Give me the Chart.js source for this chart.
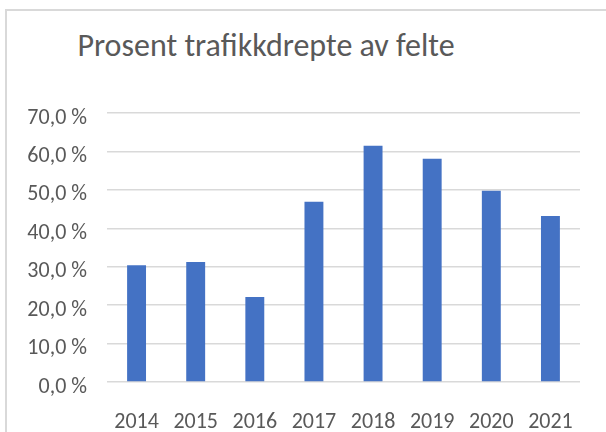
<!DOCTYPE html>
<html>
<head>
<meta charset="utf-8">
<script src="https://cdn.jsdelivr.net/npm/chart.js@4/dist/chart.umd.min.js"></script>
<style>
  html, body { margin: 0; padding: 0; background: #fff; }
  body { width: 606px; height: 432px; position: relative; overflow: hidden; }
  #frame {
    position: absolute; left: 5px; top: 9px; width: 700px; height: 500px;
    border: 2px solid #d9d9d9; box-sizing: border-box;
  }
  #title {
    position: absolute; left: 66px; top: 26px; width: 400px;
    font-family: Carlito, Lato, sans-serif; font-size: 32px; color: #595959;
    white-space: nowrap; text-align: center;
  }
  #wrap { position: absolute; left: 0; top: 0; width: 606px; height: 432px; }
</style>
</head>
<body>
<div id="frame"></div>
<div id="title">Prosent trafikkdrepte av felte</div>
<div id="wrap"><canvas id="chart"></canvas></div>
<script>
var years = ['2014', '2015', '2016', '2017', '2018', '2019', '2020', '2021'];
var prosent = [30.4, 31.2, 22.1, 46.9, 61.5, 58.1, 49.8, 43.2];
var yMin = 0;
var yMax = 70;
var yStep = 10;

var fontFamily = 'Carlito, Lato, sans-serif';
var textColor = '#595959';

var ctx = document.getElementById('chart');

var chart = new Chart(ctx, {
    type: 'bar',
    data: {
        labels: years,
        datasets: [{
            data: prosent,
            backgroundColor: '#4472c4',
            categoryPercentage: 1,
            barPercentage: 0.32
        }]
    },
    options: {
        responsive: true,
        maintainAspectRatio: false,
        animation: false,
        layout: {
            padding: { top: 113, right: 26, left: 0, bottom: 0 }
        },
        plugins: {
            legend: { display: false },
            title: { display: false },
            tooltip: { enabled: false }
        },
        scales: {
            x: {
                grid: { display: false },
                border: { display: false },
                ticks: {
                    color: textColor,
                    font: { family: fontFamily, size: 22 },
                    padding: 19,
                    maxRotation: 0
                },
                afterFit: function (s) { s.height = 50; }
            },
            y: {
                min: yMin,
                max: yMax,
                grid: {
                    color: '#d9d9d9',
                    lineWidth: 1.5,
                    drawTicks: false
                },
                border: { display: false },
                ticks: {
                    stepSize: yStep,
                    color: textColor,
                    font: { family: fontFamily, size: 22 },
                    padding: 20,
                    labelOffset: 5,
                    callback: function (v) {
                        return v.toFixed(1).replace('.', ',') + ' %';
                    }
                },
                afterFit: function (s) { s.width = 107; }
            }
        }
    }
});
</script>
</body>
</html>
